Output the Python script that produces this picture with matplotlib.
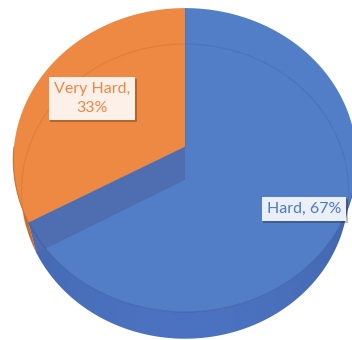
import numpy as np
import matplotlib
matplotlib.use("Agg")
import matplotlib.pyplot as plt
from matplotlib.patches import Polygon
import matplotlib.patheffects as pe

# ---- data ----
categories = ["Hard", "Very Hard"]
values = [67, 33]
wrap_label = [False, True]

# ---- style ----
top_colors = ["#527EC8", "#ED8942"]
wall_colors = [(0.29, 0.44, 0.74), (0.86, 0.47, 0.20)]
band_color = "#4F6EB1"
edge_colors = ["#3D5FA3", "#C8682A"]
text_colors = ["#5078C3", "#EE8646"]
box_colors = ["#EAEFF9", "#FDF0E8"]
label_r = [0.78, 0.65]

CX, CY = 185.0, 147.0
FX, FY = 1057.0, 1099.0
D = 6.18
E = np.radians(58)
H = 0.36


def proj(theta_deg, r=1.0, z=0.0):
    t = np.radians(theta_deg)
    X = r * np.cos(t)
    Y = r * np.sin(t)
    xc = X
    yc = Y * np.sin(E) + z * np.cos(E)
    depth = D + Y * np.cos(E) - z * np.sin(E)
    return CX + FX * xc / depth, CY - FY * yc / depth


fig = plt.figure(figsize=(3.52, 3.40), dpi=100)
ax = fig.add_axes([0, 0, 1, 1])
ax.set_xlim(0, 352)
ax.set_ylim(340, 0)
ax.axis("off")

total = float(sum(values))
starts, ends = [], []
a = 90.0
for v in values:
    starts.append(a)
    a = a - 360.0 * v / total
    ends.append(a)


def slice_of(theta):
    d = (90.0 - theta) % 360.0
    acc = 0.0
    for i, v in enumerate(values):
        acc += 360.0 * v / total
        if d <= acc + 1e-9:
            return i
    return len(values) - 1


# ---- walls (front half), one polygon per slice with horizontal shading ----
tt = np.linspace(-180.0, 0.0, 721)
xs = np.arange(0, 400)
s = np.sqrt(np.clip(1 - ((xs - CX) / 172.0) ** 2, 0, 1))
shade = 0.78 + 0.24 * s ** 0.6
for i in range(len(values)):
    sel = [t for t in tt if slice_of(t) == i]
    if not sel:
        continue
    top = [proj(t) for t in sel]
    bot = [proj(t, z=-H) for t in sel[::-1]]
    poly = Polygon(top + bot, closed=True, facecolor="none", edgecolor="none")
    ax.add_patch(poly)
    img = np.clip(np.outer(np.ones(2), shade)[:, :, None] * np.array(wall_colors[i])[None, None, :], 0, 1)
    im = ax.imshow(img, extent=(0, 400, 340, 0), aspect="auto",
                   interpolation="bilinear", zorder=1)
    im.set_clip_path(poly)

# ---- top faces ----
apex = proj(0, r=0.0)
apex_b = proj(0, r=0.0, z=-H)
for i in range(len(values)):
    arc = [proj(t) for t in np.linspace(starts[i], ends[i], 200)]
    ax.add_patch(Polygon([apex] + arc, closed=True, facecolor=top_colors[i],
                         edgecolor="none", zorder=2))

# ---- internal radial face seen through the top (front boundary) ----
for b in ends[:-1]:
    if np.sin(np.radians(b)) < 0:
        ax.add_patch(Polygon([apex, proj(b), proj(b, z=-H), apex_b], closed=True,
                             facecolor=band_color, edgecolor="none", zorder=3))
        xb, yb = zip(proj(b, z=-H), apex_b)
        ax.plot(xb, yb, color="#4A68A8", lw=0.6, alpha=0.6, zorder=3)

# ---- faint far edge of the bottom face ----
for i in range(len(values)):
    t2 = np.linspace(-15, 198, 600)
    sel = [t for t in t2 if slice_of(t) == i]
    if sel:
        pts = np.array([proj(t, z=-H) for t in sel])
        ax.plot(pts[:, 0], pts[:, 1], color=edge_colors[i], lw=0.8, alpha=0.35, zorder=3)

# ---- front top rim edge ----
for i in range(len(values)):
    sel = [t for t in tt if slice_of(t) == i]
    if sel:
        pts = np.array([proj(t) for t in sel])
        ax.plot(pts[:, 0], pts[:, 1], color=edge_colors[i], lw=0.8, alpha=0.8, zorder=3)

# ---- radial boundary lines on top ----
for b in starts:
    xb, yb = zip(apex, proj(b))
    ax.plot(xb, yb, color="#4A6DB0", lw=0.6, alpha=0.7, zorder=3)

# ---- labels ----
for i, (cat, v) in enumerate(zip(categories, values)):
    pct = round(100.0 * v / total)
    sep = ",\n" if wrap_label[i] else ", "
    mid = 0.5 * (starts[i] + ends[i])
    lx, ly = proj(mid, r=label_r[i])
    txt = ax.text(lx, ly, f"{cat}{sep}{pct}%", ha="center", va="center",
                  fontsize=11.5, family="Lato", color=text_colors[i],
                  linespacing=1.45, zorder=5,
                  bbox=dict(boxstyle="square,pad=0.32", facecolor=box_colors[i],
                            edgecolor="none"))
    txt.get_bbox_patch().set_path_effects(
        [pe.SimplePatchShadow(offset=(1.2, -1.2), shadow_rgbFace="black", alpha=0.25),
         pe.Normal()])

ax.set_xlim(0, 352)
ax.set_ylim(340, 0)
fig.savefig("out.png", dpi=100)
